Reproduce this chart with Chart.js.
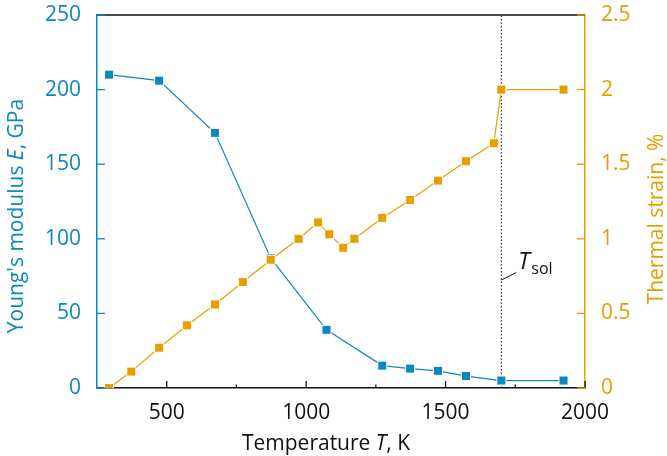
<!DOCTYPE html>
<html>
<head>
<meta charset="utf-8">
<script src="https://cdn.jsdelivr.net/npm/chart.js@4"></script>
<style>
  html, body { margin: 0; padding: 0; background: #fff; }
  #wrap { width: 667px; height: 456px; }
</style>
</head>
<body>
<div id="wrap"><canvas id="chart"></canvas></div>
<script>
var BLUE = '#0a88bf';
var ORANGE = '#e69f00';
var FONT = "'Open Sans', sans-serif";

// Young's modulus
var modulusTemps = [293, 473, 673, 873, 1073, 1273, 1373, 1473, 1573, 1700, 1923];
var modulusValues = [210, 206, 171, 87, 39, 15, 13, 11.5, 8, 5, 5];

// thermal strain
var strainTemps = [293, 373, 473, 573, 673, 773, 873, 973, 1043, 1083, 1133, 1173, 1273, 1373, 1473, 1573, 1673, 1700, 1923];
var strainValues = [0, 0.11, 0.27, 0.42, 0.56, 0.71, 0.86, 1.0, 1.11, 1.03, 0.94, 1.0, 1.14, 1.26, 1.39, 1.52, 1.64, 2.0, 2.0];

var solidusTemp = 1700;
var xTicks = [500, 1000, 1500, 2000];
var xMinorTicks = [750, 1250, 1750];

function pairs(xs, ys) {
	return xs.map(function(x, i) { return { x: x, y: ys[i] }; });
}

// draws a run of text pieces, some italic
function drawPieces(ctx, pieces, size) {
	var total = 0;
	pieces.forEach(function(p) {
		ctx.font = (p[1] ? 'italic ' : '') + size + 'px ' + FONT;
		total += ctx.measureText(p[0]).width;
	});
	var x = -total / 2;
	pieces.forEach(function(p) {
		ctx.font = (p[1] ? 'italic ' : '') + size + 'px ' + FONT;
		ctx.fillText(p[0], x, 0);
		x += ctx.measureText(p[0]).width;
	});
}

var decorations = {
	id: 'decorations',
	afterDraw: function(chart) {
		var ctx = chart.ctx;
		var area = chart.chartArea;
		var xs = chart.scales.x, ys = chart.scales.y, y2 = chart.scales.y2;
		ctx.save();

		// top frame line
		ctx.strokeStyle = '#111';
		ctx.lineWidth = 1.5;
		ctx.beginPath();
		ctx.moveTo(area.left, area.top);
		ctx.lineTo(area.right, area.top);
		ctx.stroke();

		// inward ticks
		ctx.lineWidth = 1.3;
		ctx.strokeStyle = '#111';
		xTicks.forEach(function(v) {
			var px = xs.getPixelForValue(v);
			ctx.beginPath(); ctx.moveTo(px, area.bottom); ctx.lineTo(px, area.bottom - 7); ctx.stroke();
		});
		xMinorTicks.forEach(function(v) {
			var px = xs.getPixelForValue(v);
			ctx.beginPath(); ctx.moveTo(px, area.bottom); ctx.lineTo(px, area.bottom - 3.5); ctx.stroke();
		});
		ctx.strokeStyle = BLUE;
		ys.ticks.forEach(function(t) {
			var py = ys.getPixelForValue(t.value);
			ctx.beginPath(); ctx.moveTo(area.left, py); ctx.lineTo(area.left + 8, py); ctx.stroke();
		});
		ctx.strokeStyle = ORANGE;
		y2.ticks.forEach(function(t) {
			var py = y2.getPixelForValue(t.value);
			ctx.beginPath(); ctx.moveTo(area.right, py); ctx.lineTo(area.right - 8, py); ctx.stroke();
		});

		// axis titles
		ctx.textBaseline = 'alphabetic';
		ctx.fillStyle = '#111';
		ctx.save();
		ctx.translate(326, 450);
		drawPieces(ctx, [['Temperature ', false], ['T', true], [', K', false]], 21);
		ctx.restore();

		ctx.fillStyle = BLUE;
		ctx.save();
		ctx.translate(23, 216);
		ctx.rotate(-Math.PI / 2);
		drawPieces(ctx, [["Young's modulus ", false], ['E', true], [', GPa', false]], 21);
		ctx.restore();

		ctx.fillStyle = ORANGE;
		ctx.save();
		ctx.translate(663, 219);
		ctx.rotate(-Math.PI / 2);
		drawPieces(ctx, [['Thermal strain, %', false]], 21);
		ctx.restore();

		// T_sol label with leader
		var sx = xs.getPixelForValue(solidusTemp);
		ctx.strokeStyle = '#111';
		ctx.lineWidth = 1;
		ctx.beginPath();
		ctx.moveTo(sx, 280);
		ctx.lineTo(sx + 15, 272.5);
		ctx.stroke();
		ctx.fillStyle = '#111';
		ctx.font = 'italic 23px ' + FONT;
		ctx.fillText('T', sx + 17, 269);
		ctx.font = '16px ' + FONT;
		ctx.fillText('sol', sx + 30, 274);

		ctx.restore();
	}
};

function noVerticalPadding(scale) {
	scale.paddingTop = 0;
	scale.paddingBottom = 0;
}

new Chart(document.getElementById('chart').getContext('2d'), {
	type: 'line',
	data: {
		datasets: [
			{
				label: 'Thermal strain',
				data: pairs(strainTemps, strainValues),
				yAxisID: 'y2',
				borderColor: ORANGE,
				backgroundColor: ORANGE,
				borderWidth: 1.2,
				pointStyle: 'rect',
				pointRadius: 6.4,
				pointBorderColor: '#fff',
				pointBorderWidth: 1,
				order: 0
			},
			{
				label: "Young's modulus",
				data: pairs(modulusTemps, modulusValues),
				yAxisID: 'y',
				borderColor: BLUE,
				backgroundColor: BLUE,
				borderWidth: 1.2,
				pointStyle: 'rect',
				pointRadius: 6.4,
				pointBorderColor: '#fff',
				pointBorderWidth: 1,
				order: 1
			},
			{
				label: 'solidus',
				data: [{ x: solidusTemp, y: 0 }, { x: solidusTemp, y: 250 }],
				yAxisID: 'y',
				borderColor: '#333',
				borderWidth: 1.2,
				borderDash: [1.5, 2],
				pointRadius: 0,
				order: 2
			}
		]
	},
	options: {
		responsive: true,
		maintainAspectRatio: false,
		animation: false,
		layout: { padding: { top: 15, right: 0, left: 0, bottom: 0 } },
		plugins: {
			legend: { display: false },
			tooltip: { enabled: false }
		},
		scales: {
			x: {
				type: 'linear',
				min: 250,
				max: 2000,
				grid: { display: false },
				border: { display: true, color: '#111', width: 1.5 },
				afterBuildTicks: function(scale) {
					scale.ticks = xTicks.map(function(v) { return { value: v }; });
				},
				afterFit: function(scale) { scale.height = 68; },
				ticks: {
					color: '#111',
					font: { family: FONT, size: 21 },
					padding: 4,
					maxRotation: 0,
					callback: function(v) { return String(v); }
				}
			},
			y: {
				position: 'left',
				min: 0,
				max: 250,
				grid: { display: false },
				border: { display: true, color: BLUE, width: 1.5 },
				afterFit: function(scale) { scale.width = 97; noVerticalPadding(scale); },
				ticks: {
					stepSize: 50,
					color: BLUE,
					font: { family: FONT, size: 21 },
					padding: 8,
					callback: function(v) { return String(v); }
				}
			},
			y2: {
				position: 'right',
				min: 0,
				max: 2.5,
				grid: { display: false },
				border: { display: true, color: ORANGE, width: 1.5 },
				afterFit: function(scale) { scale.width = 82; noVerticalPadding(scale); },
				ticks: {
					stepSize: 0.5,
					color: ORANGE,
					font: { family: FONT, size: 21 },
					padding: 8,
					callback: function(v) { return String(v); }
				}
			}
		}
	},
	plugins: [decorations]
});
</script>
</body>
</html>
